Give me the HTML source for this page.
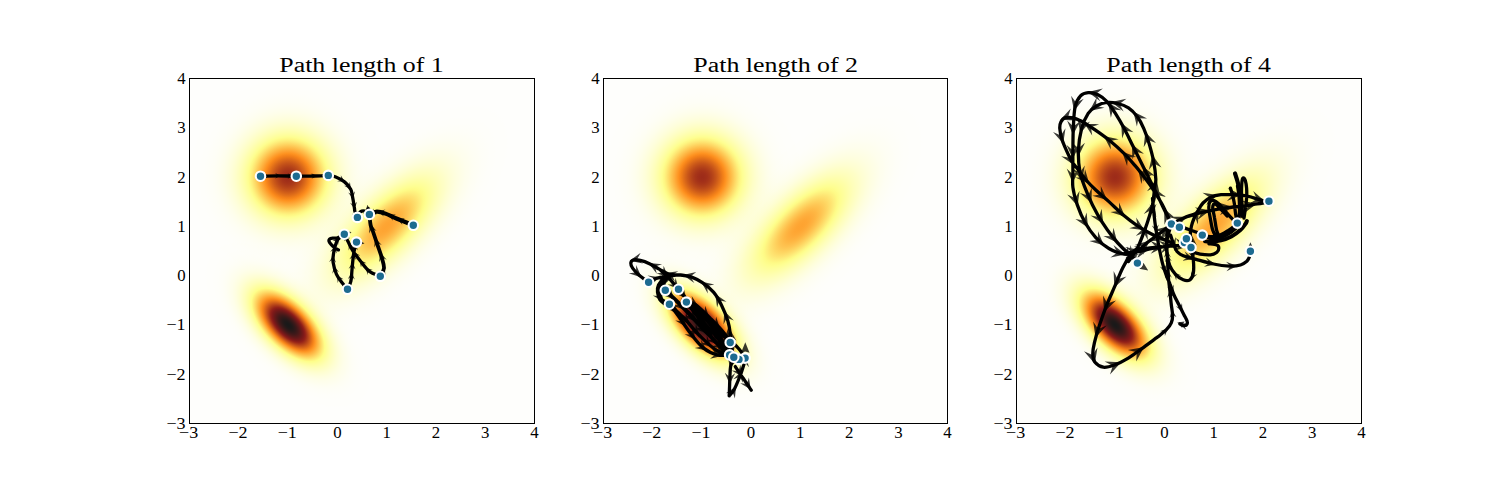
<!DOCTYPE html>
<html><head><meta charset="utf-8"><title>Path length</title>
<style>html,body{margin:0;padding:0;background:#fff}svg{display:block}.tk{font-family:"Liberation Serif",serif;font-size:16px;fill:#000}.tt{font-family:"Liberation Serif",serif;font-size:21.6px;fill:#000}</style></head><body>
<svg width="1512" height="504" viewBox="0 0 1512 504">
<defs>
<radialGradient id="g0" gradientUnits="userSpaceOnUse" cx="0" cy="0" r="1" gradientTransform="matrix(-56.6893 -56.6893 134.9475 -134.9475 197.143 147.857)"><stop offset="0.0000" stop-color="#ffa431"/><stop offset="0.0208" stop-color="#ffa532"/><stop offset="0.0417" stop-color="#ffa734"/><stop offset="0.0625" stop-color="#ffab38"/><stop offset="0.0833" stop-color="#ffb03e"/><stop offset="0.1042" stop-color="#ffb744"/><stop offset="0.1250" stop-color="#ffbf4c"/><stop offset="0.1458" stop-color="#ffc755"/><stop offset="0.1667" stop-color="#ffd15e"/><stop offset="0.1875" stop-color="#ffdb68"/><stop offset="0.2083" stop-color="#ffe573"/><stop offset="0.2292" stop-color="#fff07e"/><stop offset="0.2500" stop-color="#fffb88"/><stop offset="0.2708" stop-color="#ffff93"/><stop offset="0.2917" stop-color="#ffff9e"/><stop offset="0.3125" stop-color="#ffffa8"/><stop offset="0.3333" stop-color="#ffffb2"/><stop offset="0.3542" stop-color="#ffffbb"/><stop offset="0.3750" stop-color="#ffffc4"/><stop offset="0.3958" stop-color="#ffffcb"/><stop offset="0.4167" stop-color="#ffffd3"/><stop offset="0.4375" stop-color="#ffffd9"/><stop offset="0.4583" stop-color="#ffffdf"/><stop offset="0.4792" stop-color="#ffffe4"/><stop offset="0.5000" stop-color="#ffffe8"/><stop offset="0.5208" stop-color="#ffffec"/><stop offset="0.5417" stop-color="#fffff0"/><stop offset="0.5625" stop-color="#fffff2"/><stop offset="0.5833" stop-color="#fffff5"/><stop offset="0.6042" stop-color="#fffff7"/><stop offset="0.6250" stop-color="#fffff8"/><stop offset="0.6458" stop-color="#fffffa"/><stop offset="0.6667" stop-color="#fffffb"/><stop offset="0.6875" stop-color="#fffffc"/><stop offset="0.7083" stop-color="#fffffd"/><stop offset="0.7292" stop-color="#fffffd"/><stop offset="0.7500" stop-color="#fffffe"/><stop offset="0.7708" stop-color="#fffffe"/><stop offset="0.7917" stop-color="#fffffe"/><stop offset="0.8125" stop-color="#fffffe"/><stop offset="0.8333" stop-color="#ffffff"/><stop offset="0.8542" stop-color="#ffffff"/><stop offset="0.8750" stop-color="#ffffff"/><stop offset="0.8958" stop-color="#ffffff"/><stop offset="0.9167" stop-color="#ffffff"/><stop offset="0.9375" stop-color="#ffffff"/><stop offset="0.9583" stop-color="#ffffff"/><stop offset="0.9792" stop-color="#ffffff"/><stop offset="1.0000" stop-color="#ffffff"/></radialGradient>
<radialGradient id="g1" gradientUnits="userSpaceOnUse" cx="0" cy="0" r="1" gradientTransform="matrix(-41.4000 41.4000 -82.8000 -82.8000 98.571 246.429)"><stop offset="0.0000" stop-color="#191919"/><stop offset="0.0208" stop-color="#1b1919"/><stop offset="0.0417" stop-color="#201919"/><stop offset="0.0625" stop-color="#291919"/><stop offset="0.0833" stop-color="#351919"/><stop offset="0.1042" stop-color="#431919"/><stop offset="0.1250" stop-color="#551919"/><stop offset="0.1458" stop-color="#681919"/><stop offset="0.1667" stop-color="#7d1919"/><stop offset="0.1875" stop-color="#942119"/><stop offset="0.2083" stop-color="#ab3919"/><stop offset="0.2292" stop-color="#c45119"/><stop offset="0.2500" stop-color="#dc6919"/><stop offset="0.2708" stop-color="#f48119"/><stop offset="0.2917" stop-color="#ff9926"/><stop offset="0.3125" stop-color="#ffb03d"/><stop offset="0.3333" stop-color="#ffc553"/><stop offset="0.3542" stop-color="#ffda67"/><stop offset="0.3750" stop-color="#ffed7a"/><stop offset="0.3958" stop-color="#ffff8c"/><stop offset="0.4167" stop-color="#ffff9c"/><stop offset="0.4375" stop-color="#ffffaa"/><stop offset="0.4583" stop-color="#ffffb7"/><stop offset="0.4792" stop-color="#ffffc2"/><stop offset="0.5000" stop-color="#ffffcc"/><stop offset="0.5208" stop-color="#ffffd5"/><stop offset="0.5417" stop-color="#ffffdc"/><stop offset="0.5625" stop-color="#ffffe3"/><stop offset="0.5833" stop-color="#ffffe8"/><stop offset="0.6042" stop-color="#ffffed"/><stop offset="0.6250" stop-color="#fffff0"/><stop offset="0.6458" stop-color="#fffff3"/><stop offset="0.6667" stop-color="#fffff6"/><stop offset="0.6875" stop-color="#fffff8"/><stop offset="0.7083" stop-color="#fffffa"/><stop offset="0.7292" stop-color="#fffffb"/><stop offset="0.7500" stop-color="#fffffc"/><stop offset="0.7708" stop-color="#fffffd"/><stop offset="0.7917" stop-color="#fffffd"/><stop offset="0.8125" stop-color="#fffffe"/><stop offset="0.8333" stop-color="#fffffe"/><stop offset="0.8542" stop-color="#fffffe"/><stop offset="0.8750" stop-color="#fffffe"/><stop offset="0.8958" stop-color="#ffffff"/><stop offset="0.9167" stop-color="#ffffff"/><stop offset="0.9375" stop-color="#ffffff"/><stop offset="0.9583" stop-color="#ffffff"/><stop offset="0.9792" stop-color="#ffffff"/><stop offset="1.0000" stop-color="#ffffff"/></radialGradient>
<radialGradient id="g2" gradientUnits="userSpaceOnUse" cx="0" cy="0" r="1" gradientTransform="matrix(113.3786 -0.0000 0.0000 -113.3786 98.571 98.571)"><stop offset="0.0000" stop-color="#9e2b19"/><stop offset="0.0208" stop-color="#9f2d19"/><stop offset="0.0417" stop-color="#a33019"/><stop offset="0.0625" stop-color="#a93619"/><stop offset="0.0833" stop-color="#b13f19"/><stop offset="0.1042" stop-color="#bc4919"/><stop offset="0.1250" stop-color="#c85519"/><stop offset="0.1458" stop-color="#d66319"/><stop offset="0.1667" stop-color="#e57219"/><stop offset="0.1875" stop-color="#f58219"/><stop offset="0.2083" stop-color="#ff9320"/><stop offset="0.2292" stop-color="#ffa432"/><stop offset="0.2500" stop-color="#ffb643"/><stop offset="0.2708" stop-color="#ffc754"/><stop offset="0.2917" stop-color="#ffd865"/><stop offset="0.3125" stop-color="#ffe875"/><stop offset="0.3333" stop-color="#fff784"/><stop offset="0.3542" stop-color="#ffff93"/><stop offset="0.3750" stop-color="#ffffa1"/><stop offset="0.3958" stop-color="#ffffad"/><stop offset="0.4167" stop-color="#ffffb8"/><stop offset="0.4375" stop-color="#ffffc3"/><stop offset="0.4583" stop-color="#ffffcc"/><stop offset="0.4792" stop-color="#ffffd4"/><stop offset="0.5000" stop-color="#ffffdb"/><stop offset="0.5208" stop-color="#ffffe1"/><stop offset="0.5417" stop-color="#ffffe6"/><stop offset="0.5625" stop-color="#ffffeb"/><stop offset="0.5833" stop-color="#ffffef"/><stop offset="0.6042" stop-color="#fffff2"/><stop offset="0.6250" stop-color="#fffff5"/><stop offset="0.6458" stop-color="#fffff7"/><stop offset="0.6667" stop-color="#fffff9"/><stop offset="0.6875" stop-color="#fffffa"/><stop offset="0.7083" stop-color="#fffffb"/><stop offset="0.7292" stop-color="#fffffc"/><stop offset="0.7500" stop-color="#fffffd"/><stop offset="0.7708" stop-color="#fffffd"/><stop offset="0.7917" stop-color="#fffffe"/><stop offset="0.8125" stop-color="#fffffe"/><stop offset="0.8333" stop-color="#fffffe"/><stop offset="0.8542" stop-color="#fffffe"/><stop offset="0.8750" stop-color="#ffffff"/><stop offset="0.8958" stop-color="#ffffff"/><stop offset="0.9167" stop-color="#ffffff"/><stop offset="0.9375" stop-color="#ffffff"/><stop offset="0.9583" stop-color="#ffffff"/><stop offset="0.9792" stop-color="#ffffff"/><stop offset="1.0000" stop-color="#ffffff"/></radialGradient>
<clipPath id="clip"><rect x="0" y="0" width="345" height="345"/></clipPath>
<g id="bg">
<g clip-path="url(#clip)">
<rect x="0" y="0" width="345" height="345" fill="#fefefc"/>
<rect x="0" y="0" width="345" height="345" fill="url(#g0)" style="mix-blend-mode:multiply"/>
<rect x="0" y="0" width="345" height="345" fill="url(#g1)" style="mix-blend-mode:multiply"/>
<rect x="0" y="0" width="345" height="345" fill="url(#g2)" style="mix-blend-mode:multiply"/>
</g></g>
</defs>
<rect width="1512" height="504" fill="#fff"/>
<g transform="translate(189.5 78.5)">
<use href="#bg"/>
<g transform="translate(-189.5 -78.5)">
<path d="M260.5 176.2C263.4 176.1 272.0 175.8 278.0 175.8C284.0 175.8 290.6 176.2 296.3 176.2C302.0 176.2 306.7 176.1 312.0 176.0C317.3 175.9 325.6 175.5 328.3 175.4M328.3 175.4C329.4 175.6 332.4 175.7 335.2 176.8C337.9 177.9 342.2 180.0 344.8 182.1C347.4 184.2 349.5 187.2 350.7 189.3C351.9 191.5 351.6 192.0 352.2 195.0C352.8 198.0 353.9 204.4 354.3 207.1C354.8 209.8 354.4 209.7 354.9 211.4C355.4 213.1 357.0 216.4 357.4 217.4M357.4 217.4C357.9 216.5 359.1 212.9 360.4 211.9C361.7 210.9 363.5 210.8 365.0 211.2C366.5 211.6 368.7 213.9 369.4 214.4M380.3 276.3C378.4 275.4 372.5 273.7 369.1 271.1C365.8 268.5 362.8 263.9 360.2 260.7C357.6 257.5 355.5 254.9 353.5 251.8C351.5 248.7 349.8 245.0 348.3 242.1C346.8 239.2 345.0 235.5 344.3 234.2M347.5 289.3C348.1 288.0 350.1 284.8 350.8 281.5C351.6 278.2 351.6 274.1 352.0 269.6C352.4 265.2 353.0 258.5 353.5 254.8C354.0 251.1 354.5 249.4 355.0 247.3C355.5 245.2 356.2 243.0 356.5 242.1M347.5 289.3C346.6 288.2 344.2 285.5 342.3 283.0C340.4 280.5 337.9 277.6 336.4 274.1C334.9 270.6 333.6 265.4 333.1 262.2C332.6 258.9 333.2 256.8 333.4 254.6C333.6 252.4 334.1 250.7 334.5 248.9C334.9 247.1 335.3 245.5 335.9 243.9C336.5 242.3 336.7 240.8 338.1 239.2C339.5 237.6 343.3 235.0 344.3 234.2M344.3 234.2C343.2 234.8 339.6 237.2 337.7 237.8C335.8 238.5 334.1 237.9 332.7 238.1C331.3 238.3 330.1 238.6 329.5 239.2C328.9 239.8 328.8 240.5 329.1 241.4C329.4 242.3 330.3 243.5 331.3 244.6C332.3 245.7 333.7 246.9 334.9 247.8C336.1 248.7 337.8 249.6 338.4 249.9" fill="none" stroke="#000" stroke-width="3.3" stroke-linecap="round" stroke-linejoin="round"/>
<path d="M413.3 225.3C410.5 224.2 401.0 220.4 396.4 218.5C391.8 216.6 388.8 214.8 385.5 213.6C382.2 212.4 379.5 211.5 376.8 211.6C374.1 211.7 370.6 213.9 369.4 214.4" fill="none" stroke="#000" stroke-width="4.2" stroke-linecap="round" stroke-linejoin="round"/>
<path d="M380.3 276.3C380.9 274.9 383.8 271.3 384.0 268.2C384.2 265.1 382.9 261.7 381.8 257.7C380.7 253.7 378.8 248.8 377.3 244.3C375.8 239.9 373.9 234.2 372.8 231.0C371.7 227.8 371.2 227.8 370.6 225.0C370.0 222.2 369.8 217.1 369.4 214.4C369.0 211.7 368.5 209.9 368.3 209.0" fill="none" stroke="#000" stroke-width="3.8" stroke-linecap="round" stroke-linejoin="round"/>
<path d="M269.2 175.9 L263.8 178.9 L265.9 176.0 L263.6 173.4ZM280.7 175.8 L275.1 178.5 L277.4 175.8 L275.2 173.0ZM293.0 176.2 L287.5 178.8 L289.7 176.1 L287.6 173.3ZM304.4 176.2 L298.9 179.0 L301.1 176.2 L298.9 173.5ZM316.9 175.9 L311.5 178.8 L313.6 176.0 L311.3 173.3ZM328.7 175.4 L323.3 178.4 L325.4 175.5 L323.1 172.9ZM336.0 176.9 L328.4 178.5 L332.0 175.9 L330.2 171.8ZM344.9 182.0 L337.1 181.2 L341.3 179.7 L340.8 175.3ZM350.9 189.5 L344.1 185.7 L348.6 186.0 L349.9 181.7ZM352.9 198.8 L348.2 192.6 L352.1 194.7 L355.1 191.3ZM354.6 209.2 L350.1 202.8 L354.0 205.0 L357.0 201.7ZM358.0 218.6 L351.9 213.7 L356.2 214.8 L358.3 210.8ZM360.9 210.8 L360.2 218.6 L358.7 214.4 L354.2 214.9ZM370.4 215.3 L362.8 213.3 L367.2 212.5 L367.4 208.0ZM405.7 222.3 L413.5 221.6 L409.6 223.8 L410.9 228.1ZM397.1 218.8 L404.9 218.2 L401.0 220.4 L402.3 224.7ZM388.1 214.6 L395.9 214.5 L391.9 216.4 L392.9 220.8ZM377.8 211.4 L385.4 209.6 L381.9 212.3 L383.8 216.4ZM369.1 214.6 L373.8 208.4 L372.8 212.7 L376.9 214.6ZM384.6 266.8 L385.6 276.6 L383.0 271.9 L378.0 274.1ZM380.2 252.4 L386.7 259.8 L381.8 257.6 L379.1 262.2ZM375.1 237.7 L381.7 245.0 L376.8 242.8 L374.2 247.5ZM370.0 223.6 L376.6 230.9 L371.7 228.7 L369.0 233.4ZM368.4 209.0 L374.0 217.0 L369.4 214.3 L366.2 218.6ZM373.3 273.6 L381.1 272.9 L377.2 275.1 L378.5 279.4ZM365.4 267.5 L372.8 270.1 L368.3 270.5 L367.8 275.0ZM359.5 259.8 L366.6 263.2 L362.1 263.1 L361.0 267.5ZM353.4 251.7 L360.3 255.4 L355.8 255.2 L354.6 259.5ZM348.6 242.8 L354.9 247.4 L350.5 246.5 L348.7 250.6ZM344.1 233.7 L350.3 238.4 L345.9 237.5 L344.1 241.5ZM350.8 282.0 L351.4 289.8 L349.2 285.9 L344.9 287.1ZM351.8 272.2 L354.8 279.4 L351.5 276.4 L347.8 279.0ZM352.7 262.1 L355.5 269.4 L352.3 266.3 L348.6 268.8ZM353.8 252.7 L356.3 260.1 L353.2 256.9 L349.4 259.2ZM356.2 242.8 L357.7 250.5 L355.1 246.8 L351.0 248.6ZM342.4 283.3 L349.6 286.5 L345.1 286.5 L344.2 290.9ZM336.9 275.3 L343.6 279.3 L339.1 278.8 L337.7 283.1ZM333.8 266.0 L339.0 271.9 L334.9 270.1 L332.3 273.7ZM333.2 255.4 L336.1 262.7 L332.8 259.6 L329.1 262.1ZM335.2 245.8 L337.0 253.4 L334.3 249.9 L330.2 251.8ZM339.4 237.5 L338.0 245.2 L336.8 240.9 L332.4 241.0ZM367.4 204.8 L370.3 210.0 L368.0 209.6 L365.8 210.5ZM351.5 232.0 L348.8 234.8 L348.6 233.1 L347.6 231.6ZM364.5 243.5 L360.7 244.6 L361.5 243.0 L361.4 241.2Z" fill="#000" fill-opacity="0.78" stroke="none"/>
<circle cx="260.5" cy="176.2" r="4.75" fill="#1d6b90" stroke="#fff" stroke-width="2.1"/>
<circle cx="296.3" cy="176.2" r="4.75" fill="#1d6b90" stroke="#fff" stroke-width="2.1"/>
<circle cx="328.3" cy="175.4" r="4.75" fill="#1d6b90" stroke="#fff" stroke-width="2.1"/>
<circle cx="357.4" cy="217.4" r="4.75" fill="#1d6b90" stroke="#fff" stroke-width="2.1"/>
<circle cx="369.4" cy="214.4" r="4.75" fill="#1d6b90" stroke="#fff" stroke-width="2.1"/>
<circle cx="413.3" cy="225.3" r="4.75" fill="#1d6b90" stroke="#fff" stroke-width="2.1"/>
<circle cx="344.3" cy="234.2" r="4.75" fill="#1d6b90" stroke="#fff" stroke-width="2.1"/>
<circle cx="356.5" cy="242.1" r="4.75" fill="#1d6b90" stroke="#fff" stroke-width="2.1"/>
<circle cx="380.3" cy="276.3" r="4.75" fill="#1d6b90" stroke="#fff" stroke-width="2.1"/>
<circle cx="347.5" cy="289.3" r="4.75" fill="#1d6b90" stroke="#fff" stroke-width="2.1"/>
</g>
<rect x="0" y="0" width="345.0" height="345" fill="none" stroke="#000" stroke-width="1"/>
</g>
<text x="188.7" y="437.9" text-anchor="middle" class="tk" textLength="19.2" lengthAdjust="spacingAndGlyphs">−3</text>
<text x="185.6" y="428.9" text-anchor="end" class="tk" textLength="19.2" lengthAdjust="spacingAndGlyphs">−3</text>
<text x="238.0" y="437.9" text-anchor="middle" class="tk" textLength="19.2" lengthAdjust="spacingAndGlyphs">−2</text>
<text x="185.6" y="379.6" text-anchor="end" class="tk" textLength="19.2" lengthAdjust="spacingAndGlyphs">−2</text>
<text x="287.3" y="437.9" text-anchor="middle" class="tk" textLength="19.2" lengthAdjust="spacingAndGlyphs">−1</text>
<text x="185.6" y="330.3" text-anchor="end" class="tk" textLength="19.2" lengthAdjust="spacingAndGlyphs">−1</text>
<text x="337.4" y="437.9" text-anchor="middle" class="tk" textLength="8.4" lengthAdjust="spacingAndGlyphs">0</text>
<text x="185.6" y="281.0" text-anchor="end" class="tk" textLength="8.4" lengthAdjust="spacingAndGlyphs">0</text>
<text x="386.6" y="437.9" text-anchor="middle" class="tk" textLength="8.4" lengthAdjust="spacingAndGlyphs">1</text>
<text x="185.6" y="231.8" text-anchor="end" class="tk" textLength="8.4" lengthAdjust="spacingAndGlyphs">1</text>
<text x="435.9" y="437.9" text-anchor="middle" class="tk" textLength="8.4" lengthAdjust="spacingAndGlyphs">2</text>
<text x="185.6" y="182.5" text-anchor="end" class="tk" textLength="8.4" lengthAdjust="spacingAndGlyphs">2</text>
<text x="485.2" y="437.9" text-anchor="middle" class="tk" textLength="8.4" lengthAdjust="spacingAndGlyphs">3</text>
<text x="185.6" y="133.2" text-anchor="end" class="tk" textLength="8.4" lengthAdjust="spacingAndGlyphs">3</text>
<text x="534.5" y="437.9" text-anchor="middle" class="tk" textLength="8.4" lengthAdjust="spacingAndGlyphs">4</text>
<text x="185.6" y="83.9" text-anchor="end" class="tk" textLength="8.4" lengthAdjust="spacingAndGlyphs">4</text>
<text x="279.3" y="71.9" text-anchor="start" class="tt" textLength="164.5" lengthAdjust="spacingAndGlyphs">Path length of 1</text>
<g transform="translate(603.5 78.5)">
<use href="#bg"/>
<g transform="translate(-603.5 -78.5)">
<path d="M648.6 282.2C647.0 281.0 641.6 277.4 638.9 275.0C636.2 272.6 634.0 270.1 632.6 268.1C631.2 266.1 630.7 264.6 630.8 263.2C630.9 261.8 631.7 260.5 633.3 260.0C634.9 259.5 637.5 259.8 640.3 260.4C643.1 261.0 646.8 262.4 650.0 263.9C653.2 265.4 656.5 267.7 659.7 269.4C662.9 271.1 665.9 273.4 669.4 274.3C672.9 275.2 676.9 274.5 680.6 275.0C684.3 275.5 688.1 275.8 691.7 277.1C695.3 278.4 698.8 280.2 702.4 282.7C706.0 285.2 710.3 288.5 713.5 292.2C716.7 295.9 719.0 300.1 721.4 304.9C723.8 309.7 726.3 316.0 727.8 320.8C729.3 325.6 729.8 329.9 730.2 333.5C730.6 337.1 730.2 341.0 730.2 342.5M648.6 282.2C649.8 281.6 652.6 279.5 655.6 278.5C658.6 277.5 663.3 276.9 666.7 276.4C670.1 275.8 674.5 275.4 676.0 275.2M659.7 269.4C661.1 270.7 665.6 274.6 668.0 277.0C670.4 279.4 672.2 281.9 674.0 284.0C675.8 286.1 677.8 288.4 678.5 289.3M666.0 277.0C665.2 278.2 662.1 281.6 661.0 284.0C659.9 286.4 659.4 289.2 659.5 291.7C659.6 294.2 659.9 296.9 661.5 299.0C663.1 301.1 668.1 303.3 669.4 304.2M669.0 276.0C668.2 277.2 664.6 280.6 664.0 283.0C663.4 285.4 665.1 289.1 665.3 290.3M664.0 278.0C663.1 279.2 659.6 282.7 658.5 285.0C657.4 287.3 657.2 289.5 657.5 292.0C657.8 294.5 658.8 298.0 660.0 300.0C661.2 302.0 664.2 303.3 665.0 304.0M686.4 302.1C687.9 302.5 691.3 301.6 695.5 304.5C699.7 307.4 706.7 314.7 711.5 319.5C716.3 324.3 721.4 329.7 724.5 333.5C727.6 337.3 729.2 341.0 730.2 342.5M669.4 304.2C670.9 306.1 674.7 310.8 678.2 315.7C681.8 320.6 686.5 328.2 690.7 333.6C694.9 339.0 698.7 344.3 703.2 347.9C707.7 351.5 713.1 353.8 717.5 355.0C721.9 356.2 727.6 354.9 729.6 354.9M678.5 289.3C680.8 291.9 687.1 299.6 692.0 305.0C696.9 310.4 703.0 316.2 708.0 322.0C713.0 327.8 717.7 334.1 722.0 340.0C726.3 345.9 731.8 354.3 733.8 357.2M665.3 290.3C667.1 291.9 671.5 295.7 676.0 300.0C680.5 304.3 686.7 310.3 692.0 316.0C697.3 321.7 703.0 328.5 708.0 334.0C713.0 339.5 717.7 345.1 722.0 349.0C726.3 352.9 731.8 355.8 733.8 357.2M669.4 304.2C671.8 306.5 678.9 312.7 684.0 318.0C689.1 323.3 694.7 330.7 700.0 336.0C705.3 341.3 710.4 346.5 716.0 350.0C721.6 353.5 730.8 356.0 733.8 357.2M686.4 302.1C688.7 304.8 695.4 312.7 700.0 318.0C704.6 323.3 709.7 329.0 714.0 334.0C718.3 339.0 721.8 343.8 726.0 348.0C730.2 352.2 736.8 357.5 739.0 359.4M665.3 290.3C666.4 291.4 668.5 293.6 672.0 297.0C675.5 300.4 681.0 305.8 686.0 311.0C691.0 316.2 696.7 322.5 702.0 328.0C707.3 333.5 713.4 339.5 718.0 344.0C722.6 348.5 727.7 353.1 729.6 354.9M678.5 289.3C679.9 291.0 683.1 295.4 687.0 299.5C690.9 303.6 697.2 309.1 702.0 314.0C706.8 318.9 711.3 324.2 716.0 329.0C720.7 333.8 727.8 340.2 730.2 342.5M686.4 302.1C687.7 303.8 690.7 307.7 694.0 312.0C697.3 316.3 702.3 322.8 706.0 328.0C709.7 333.2 712.5 339.0 716.0 343.0C719.5 347.0 725.2 350.5 727.0 352.0M733.8 357.2C733.3 358.8 731.3 361.9 730.6 366.6C729.9 371.3 729.8 380.6 729.6 385.5C729.4 390.4 729.3 394.1 729.2 395.8M729.2 395.8C730.1 394.7 732.5 392.5 734.3 389.2C736.1 385.9 738.4 380.1 740.0 376.0C741.6 371.9 742.9 367.7 743.8 364.7C744.6 361.7 744.9 359.2 745.1 358.1M735.3 366.6C736.6 368.5 740.3 374.1 743.0 378.0C745.7 381.9 749.9 388.2 751.3 390.2M730.2 342.5C730.5 343.8 731.4 347.6 732.0 350.0C732.6 352.4 733.5 356.0 733.8 357.2M722.0 333.0C723.5 334.3 728.2 338.3 731.0 341.0C733.8 343.7 736.6 346.1 739.0 349.0C741.4 351.9 744.1 356.6 745.1 358.1" fill="none" stroke="#000" stroke-width="3.3" stroke-linecap="round" stroke-linejoin="round"/>
<path d="M729.7 328.9 L736.5 340.7 L730.5 336.3 L725.6 341.9ZM724.2 310.8 L733.8 320.5 L726.9 317.8 L723.5 324.5ZM715.2 294.1 L726.5 301.8 L719.2 300.4 L717.1 307.6ZM701.0 281.6 L714.3 284.5 L707.0 286.0 L707.8 293.4ZM683.0 275.1 L696.3 272.0 L690.4 276.5 L694.3 282.9ZM664.8 272.9 L678.3 271.3 L672.0 275.1 L675.1 281.8ZM648.5 263.0 L662.1 264.2 L655.0 266.6 L656.8 273.8ZM629.6 260.8 L640.7 252.8 L637.0 259.2 L643.0 263.5ZM641.7 277.5 L628.7 273.2 L636.1 272.5 L636.1 265.1ZM659.6 277.3 L650.6 285.5 L653.3 279.2 L647.6 275.4ZM674.7 275.3 L664.5 281.9 L668.2 276.2 L663.2 271.5ZM668.1 277.0 L656.5 273.4 L663.2 272.5 L663.6 265.7ZM678.8 289.6 L667.6 284.6 L674.5 284.6 L675.6 277.8ZM659.5 286.9 L659.9 274.8 L662.5 281.1 L669.2 279.6ZM663.3 301.7 L652.8 295.5 L659.7 296.3 L661.6 289.7ZM662.8 286.1 L661.8 273.9 L665.2 279.9 L671.7 277.7ZM698.3 306.2 L686.2 305.0 L692.7 302.8 L691.7 296.0ZM709.3 317.3 L697.8 313.2 L704.6 312.6 L705.2 305.8ZM719.8 328.1 L708.5 323.8 L715.3 323.3 L716.1 316.5ZM729.3 340.7 L719.0 334.2 L725.8 335.1 L727.9 328.6ZM676.4 313.3 L665.6 307.8 L672.4 308.0 L673.9 301.3ZM685.8 326.8 L675.3 320.6 L682.1 321.3 L684.0 314.7ZM695.5 339.8 L684.6 334.3 L691.4 334.5 L692.9 327.9ZM706.7 350.6 L694.8 348.1 L701.5 346.6 L701.2 339.7ZM721.8 355.9 L710.0 358.7 L715.4 354.5 L712.2 348.5ZM686.4 298.6 L675.3 293.6 L682.1 293.6 L683.3 286.8ZM696.9 310.3 L685.6 305.9 L692.4 305.5 L693.2 298.7ZM708.2 322.2 L696.9 317.6 L703.8 317.3 L704.7 310.5ZM717.9 334.4 L707.0 328.9 L713.9 329.2 L715.4 322.5ZM727.3 347.5 L716.7 341.4 L723.5 342.1 L725.3 335.4ZM673.8 297.9 L662.1 294.4 L668.9 293.5 L669.1 286.6ZM685.3 309.1 L673.7 305.1 L680.6 304.4 L681.1 297.6ZM696.2 320.6 L684.9 316.0 L691.8 315.7 L692.7 309.0ZM707.0 332.9 L695.8 328.1 L702.6 327.9 L703.7 321.2ZM717.5 344.6 L706.2 339.9 L713.1 339.7 L714.0 332.9ZM730.6 355.3 L718.5 353.5 L725.1 351.6 L724.4 344.8ZM678.1 312.2 L666.5 308.6 L673.3 307.7 L673.6 300.9ZM689.4 324.0 L678.2 319.3 L685.1 319.1 L686.1 312.3ZM699.5 335.6 L688.3 331.0 L695.1 330.7 L696.0 324.0ZM711.5 346.9 L699.8 343.5 L706.6 342.5 L706.8 335.6ZM725.1 354.3 L713.0 354.9 L719.1 351.7 L717.0 345.2ZM694.5 311.6 L683.3 306.6 L690.2 306.5 L691.3 299.8ZM704.8 323.6 L693.7 318.7 L700.5 318.6 L701.6 311.8ZM714.9 335.0 L703.7 330.2 L710.6 330.1 L711.6 323.3ZM725.5 347.6 L714.3 342.8 L721.1 342.6 L722.2 335.9ZM737.0 357.8 L725.3 354.7 L732.0 353.5 L732.0 346.7ZM674.3 299.3 L662.8 295.3 L669.7 294.7 L670.3 287.8ZM685.1 310.1 L673.6 306.0 L680.5 305.4 L681.1 298.6ZM695.8 321.4 L684.4 316.9 L691.3 316.6 L692.1 309.8ZM707.3 333.4 L695.8 329.2 L702.7 328.7 L703.3 321.9ZM718.4 344.4 L706.9 340.4 L713.7 339.8 L714.2 332.9ZM729.9 355.1 L718.2 351.5 L725.0 350.7 L725.4 343.8ZM685.7 298.2 L674.7 293.1 L681.5 293.2 L682.7 286.4ZM697.4 309.5 L685.7 305.8 L692.6 304.9 L692.9 298.1ZM708.5 320.9 L697.2 316.4 L704.0 316.1 L704.9 309.3ZM719.9 332.9 L708.4 328.9 L715.2 328.2 L715.8 321.4ZM731.2 343.4 L719.5 339.7 L726.3 338.9 L726.7 332.1ZM693.6 311.5 L682.8 305.9 L689.6 306.2 L691.1 299.6ZM703.1 324.0 L692.3 318.4 L699.1 318.7 L700.7 312.1ZM712.2 337.9 L702.0 331.2 L708.8 332.2 L711.0 325.8ZM722.9 349.1 L711.0 346.2 L717.8 344.9 L717.7 338.1ZM730.1 368.3 L727.6 356.3 L731.7 361.9 L737.8 358.9ZM729.7 383.9 L724.8 372.8 L729.9 377.3 L735.3 373.1ZM736.0 386.4 L734.9 398.5 L732.6 392.0 L725.9 393.2ZM742.0 370.7 L743.1 382.8 L739.7 376.9 L733.2 379.2ZM745.5 355.5 L749.0 367.2 L744.5 362.0 L738.6 365.6ZM742.2 376.8 L731.7 370.6 L738.5 371.3 L740.4 364.7ZM750.8 389.4 L740.3 383.3 L747.1 384.0 L748.9 377.4ZM733.1 354.3 L725.3 344.9 L731.5 347.9 L735.5 342.4ZM745.3 342.2 L749.5 352.7 L745.3 351.4 L741.0 352.7Z" fill="#000" fill-opacity="0.78" stroke="none"/>
<circle cx="648.6" cy="282.2" r="4.75" fill="#1d6b90" stroke="#fff" stroke-width="2.1"/>
<circle cx="665.3" cy="290.3" r="4.75" fill="#1d6b90" stroke="#fff" stroke-width="2.1"/>
<circle cx="678.5" cy="289.3" r="4.75" fill="#1d6b90" stroke="#fff" stroke-width="2.1"/>
<circle cx="669.4" cy="304.2" r="4.75" fill="#1d6b90" stroke="#fff" stroke-width="2.1"/>
<circle cx="686.4" cy="302.1" r="4.75" fill="#1d6b90" stroke="#fff" stroke-width="2.1"/>
<circle cx="730.2" cy="342.5" r="4.75" fill="#1d6b90" stroke="#fff" stroke-width="2.1"/>
<circle cx="729.6" cy="354.9" r="4.75" fill="#1d6b90" stroke="#fff" stroke-width="2.1"/>
<circle cx="745.1" cy="358.1" r="4.75" fill="#1d6b90" stroke="#fff" stroke-width="2.1"/>
<circle cx="739.0" cy="359.4" r="4.75" fill="#1d6b90" stroke="#fff" stroke-width="2.1"/>
<circle cx="733.8" cy="357.2" r="4.75" fill="#1d6b90" stroke="#fff" stroke-width="2.1"/>
</g>
<rect x="0" y="0" width="344.0" height="345" fill="none" stroke="#000" stroke-width="1"/>
</g>
<text x="602.7" y="437.9" text-anchor="middle" class="tk" textLength="19.2" lengthAdjust="spacingAndGlyphs">−3</text>
<text x="599.6" y="428.9" text-anchor="end" class="tk" textLength="19.2" lengthAdjust="spacingAndGlyphs">−3</text>
<text x="651.8" y="437.9" text-anchor="middle" class="tk" textLength="19.2" lengthAdjust="spacingAndGlyphs">−2</text>
<text x="599.6" y="379.6" text-anchor="end" class="tk" textLength="19.2" lengthAdjust="spacingAndGlyphs">−2</text>
<text x="701.0" y="437.9" text-anchor="middle" class="tk" textLength="19.2" lengthAdjust="spacingAndGlyphs">−1</text>
<text x="599.6" y="330.3" text-anchor="end" class="tk" textLength="19.2" lengthAdjust="spacingAndGlyphs">−1</text>
<text x="750.9" y="437.9" text-anchor="middle" class="tk" textLength="8.4" lengthAdjust="spacingAndGlyphs">0</text>
<text x="599.6" y="281.0" text-anchor="end" class="tk" textLength="8.4" lengthAdjust="spacingAndGlyphs">0</text>
<text x="800.1" y="437.9" text-anchor="middle" class="tk" textLength="8.4" lengthAdjust="spacingAndGlyphs">1</text>
<text x="599.6" y="231.8" text-anchor="end" class="tk" textLength="8.4" lengthAdjust="spacingAndGlyphs">1</text>
<text x="849.2" y="437.9" text-anchor="middle" class="tk" textLength="8.4" lengthAdjust="spacingAndGlyphs">2</text>
<text x="599.6" y="182.5" text-anchor="end" class="tk" textLength="8.4" lengthAdjust="spacingAndGlyphs">2</text>
<text x="898.4" y="437.9" text-anchor="middle" class="tk" textLength="8.4" lengthAdjust="spacingAndGlyphs">3</text>
<text x="599.6" y="133.2" text-anchor="end" class="tk" textLength="8.4" lengthAdjust="spacingAndGlyphs">3</text>
<text x="947.5" y="437.9" text-anchor="middle" class="tk" textLength="8.4" lengthAdjust="spacingAndGlyphs">4</text>
<text x="599.6" y="83.9" text-anchor="end" class="tk" textLength="8.4" lengthAdjust="spacingAndGlyphs">4</text>
<text x="693.3" y="71.9" text-anchor="start" class="tt" textLength="164.8" lengthAdjust="spacingAndGlyphs">Path length of 2</text>
<g transform="translate(1016.5 78.5)">
<use href="#bg"/>
<g transform="translate(-1016.5 -78.5)">
<path d="M1172.1 245.2C1168.8 245.8 1158.3 247.4 1152.5 248.5C1146.7 249.6 1141.9 250.9 1137.2 251.8C1132.5 252.7 1128.9 254.6 1124.2 254.0C1119.5 253.4 1113.6 251.2 1108.9 248.5C1104.2 245.8 1099.8 242.0 1095.8 237.6C1091.8 233.2 1088.0 227.8 1084.9 222.3C1081.8 216.9 1079.3 210.7 1077.3 204.9C1075.3 199.1 1073.6 192.9 1072.9 187.4C1072.2 181.9 1072.9 178.4 1072.9 172.2C1072.9 166.0 1072.8 157.7 1072.9 150.4C1073.0 143.1 1072.9 135.9 1073.3 128.6C1073.7 121.3 1073.9 112.2 1075.1 106.8C1076.3 101.3 1078.3 98.3 1080.5 95.9C1082.7 93.5 1085.3 92.8 1088.2 92.6C1091.1 92.4 1094.9 93.3 1098.0 94.8C1101.1 96.3 1103.8 98.3 1106.7 101.4C1109.6 104.5 1112.5 108.9 1115.4 113.4C1118.3 117.9 1121.3 123.1 1124.2 128.6C1127.1 134.0 1130.0 140.3 1132.9 146.1C1135.8 151.9 1138.7 157.7 1141.6 163.5C1144.5 169.3 1147.8 175.9 1150.3 181.0C1152.8 186.1 1154.8 189.7 1156.9 194.0C1159.0 198.3 1160.6 202.0 1163.0 207.0C1165.4 212.0 1170.0 221.2 1171.4 224.0M1137.4 263.1C1136.3 261.8 1133.1 257.5 1130.7 255.1C1128.3 252.7 1126.0 251.4 1123.1 248.5C1120.2 245.6 1116.7 242.0 1113.2 237.6C1109.7 233.2 1105.8 227.8 1102.3 222.3C1098.8 216.9 1095.4 210.7 1092.5 204.9C1089.6 199.1 1087.0 192.9 1084.9 187.4C1082.8 181.9 1081.1 178.4 1080.0 172.2C1078.9 166.0 1078.1 157.7 1078.4 150.4C1078.7 143.1 1080.0 134.8 1081.6 128.6C1083.2 122.4 1085.7 117.2 1088.2 113.4C1090.8 109.6 1093.8 107.5 1096.9 105.7C1100.0 103.9 1103.2 102.8 1106.7 102.4C1110.2 102.0 1114.0 102.6 1117.6 103.5C1121.2 104.4 1125.2 105.7 1128.5 107.9C1131.8 110.1 1134.7 113.1 1137.2 116.6C1139.8 120.0 1141.8 124.0 1143.8 128.6C1145.8 133.2 1147.6 138.4 1149.2 143.9C1150.8 149.4 1152.5 155.5 1153.6 161.3C1154.7 167.1 1155.6 174.5 1155.8 178.8C1156.0 183.2 1155.2 183.1 1154.7 187.4C1154.2 191.8 1153.6 199.4 1152.5 204.9C1151.4 210.4 1149.7 215.1 1148.1 220.2C1146.5 225.3 1144.5 230.7 1142.7 235.4C1140.9 240.1 1139.6 244.1 1137.2 248.5C1134.8 252.9 1130.0 259.4 1128.5 261.6M1137.2 248.5C1136.2 249.4 1133.5 250.7 1131.1 253.9C1128.7 257.1 1125.6 262.2 1122.8 267.8C1120.0 273.4 1117.2 280.7 1114.4 287.2C1111.6 293.7 1108.6 300.2 1106.1 306.7C1103.6 313.2 1101.2 320.1 1099.2 326.1C1097.2 332.1 1095.5 338.2 1094.4 342.8C1093.3 347.4 1092.7 350.7 1092.8 353.9C1092.9 357.1 1093.2 360.0 1095.0 362.2C1096.8 364.4 1100.1 366.7 1103.3 367.2C1106.5 367.7 1110.2 366.5 1114.4 365.0C1118.6 363.5 1123.7 360.9 1128.3 358.1C1132.9 355.3 1137.2 351.9 1142.2 348.3C1147.2 344.7 1155.4 338.6 1158.1 336.7M1158.1 336.7C1159.5 335.5 1164.2 332.0 1166.4 329.7C1168.6 327.4 1170.3 325.1 1171.3 322.8C1172.3 320.5 1172.6 318.8 1172.6 315.8C1172.6 312.8 1171.8 308.9 1171.3 304.7C1170.8 300.5 1170.4 295.2 1169.9 290.8C1169.4 286.4 1168.9 283.5 1168.5 278.3C1168.1 273.1 1167.8 265.3 1167.5 259.7C1167.2 254.1 1166.8 249.8 1166.8 244.8C1166.8 239.8 1166.7 233.4 1167.5 229.9C1168.3 226.4 1170.8 225.0 1171.4 224.0M1172.1 243.1C1169.9 242.2 1163.1 239.4 1159.1 237.6C1155.1 235.8 1151.8 234.2 1148.1 232.2C1144.4 230.2 1141.2 228.3 1137.2 225.6C1133.2 222.9 1128.9 219.8 1124.2 215.8C1119.5 211.8 1113.6 205.9 1108.9 201.6C1104.2 197.3 1099.6 193.6 1095.8 190.0C1092.0 186.4 1088.9 183.3 1086.0 180.0C1083.1 176.7 1080.8 173.1 1078.4 170.0C1076.0 166.9 1073.8 164.6 1071.8 161.3C1069.8 158.0 1068.0 154.0 1066.4 150.4C1064.8 146.8 1063.1 143.1 1062.0 139.5C1060.9 135.9 1060.0 131.5 1059.8 128.6C1059.6 125.7 1060.0 123.9 1060.9 122.1C1061.8 120.3 1063.1 118.3 1065.3 117.7C1067.5 117.1 1070.7 117.3 1074.0 118.2C1077.3 119.1 1080.9 120.9 1084.9 123.2C1088.9 125.5 1093.6 128.8 1098.0 131.9C1102.4 135.0 1106.7 138.1 1111.1 141.7C1115.5 145.3 1120.2 149.7 1124.2 153.7C1128.2 157.7 1131.8 161.9 1135.1 165.7C1138.4 169.5 1140.9 172.8 1143.8 176.6C1146.7 180.4 1149.5 184.0 1152.5 188.6C1155.5 193.2 1158.8 198.1 1162.0 204.0C1165.2 209.9 1169.8 220.7 1171.4 224.0M1152.5 198.4C1152.8 201.2 1153.6 210.2 1154.1 215.0C1154.6 219.8 1154.8 221.9 1155.6 226.9C1156.3 231.9 1157.5 238.9 1158.6 244.8C1159.7 250.8 1161.0 257.4 1162.3 262.6C1163.6 267.8 1165.2 272.4 1166.5 276.0C1167.8 279.6 1168.7 280.7 1169.9 283.9C1171.2 287.1 1172.5 291.5 1174.0 295.0C1175.5 298.5 1177.3 301.5 1178.9 304.7C1180.5 307.9 1182.4 311.6 1183.8 314.4C1185.2 317.2 1186.8 319.6 1187.2 321.4C1187.7 323.1 1187.2 324.2 1186.5 324.9C1185.8 325.5 1184.2 325.4 1183.1 325.3C1182.0 325.2 1180.5 324.2 1180.0 324.0M1137.2 251.8C1139.0 250.2 1144.4 245.0 1148.0 242.0C1151.6 239.0 1155.1 237.0 1159.0 234.0C1162.9 231.0 1169.3 225.7 1171.4 224.0M1171.4 224.0C1172.8 223.3 1177.0 221.2 1180.0 219.8C1183.0 218.4 1186.1 216.8 1189.7 215.6C1193.3 214.4 1198.1 213.3 1201.8 212.4C1205.5 211.5 1207.8 211.1 1212.1 210.3C1216.4 209.5 1222.0 208.5 1227.9 207.7C1233.8 206.9 1243.0 206.1 1247.3 205.6C1251.6 205.1 1251.1 204.8 1253.7 204.4C1256.3 204.0 1260.2 203.6 1262.7 203.1C1265.2 202.6 1267.9 201.5 1268.9 201.2M1268.9 201.2C1267.9 201.1 1265.2 201.1 1262.7 200.5C1260.2 199.9 1256.3 198.7 1253.7 197.9C1251.1 197.2 1249.9 196.5 1247.3 196.0C1244.7 195.5 1241.1 195.1 1238.2 194.9C1235.3 194.7 1232.9 194.7 1230.1 194.7C1227.2 194.7 1224.3 194.3 1221.1 194.7C1217.9 195.1 1213.8 195.8 1210.8 197.2C1207.8 198.6 1205.2 200.7 1203.0 203.0C1200.8 205.3 1199.4 208.2 1197.9 210.8C1196.4 213.4 1195.1 215.9 1194.0 218.5C1192.9 221.1 1192.0 223.3 1191.4 226.3C1190.8 229.3 1190.1 233.8 1190.2 236.6C1190.3 239.4 1191.9 241.2 1192.0 243.0C1192.1 244.8 1191.2 246.8 1191.0 247.5M1241.5 206.0C1241.5 203.5 1241.4 195.1 1241.5 190.8C1241.6 186.6 1241.8 182.7 1242.1 180.5C1242.4 178.3 1242.9 177.9 1243.4 177.9C1243.9 177.9 1244.8 178.8 1245.3 180.5C1245.8 182.2 1246.4 185.2 1246.6 188.2C1246.8 191.2 1246.8 195.1 1246.6 198.5C1246.4 201.9 1245.7 205.7 1245.3 208.9C1244.9 212.2 1244.2 216.5 1244.0 218.0M1230.5 188.2C1230.8 189.3 1231.8 192.1 1232.4 194.7C1233.1 197.3 1233.9 200.5 1234.4 203.7C1234.9 206.9 1235.1 210.8 1235.6 214.0C1236.1 217.2 1237.0 221.6 1237.3 223.1M1238.5 222.0C1238.7 220.0 1239.4 214.3 1239.5 210.0C1239.6 205.7 1239.3 200.0 1239.0 196.0C1238.7 192.0 1237.8 187.7 1237.5 186.0M1215.9 236.6C1215.4 235.5 1213.7 233.3 1212.7 230.1C1211.7 226.9 1210.8 221.1 1210.1 217.2C1209.4 213.3 1208.8 209.5 1208.8 206.9C1208.8 204.3 1209.2 202.9 1210.1 201.8C1211.0 200.7 1212.5 200.1 1214.0 200.5C1215.5 200.9 1217.4 202.6 1219.2 204.3C1221.0 206.0 1223.2 208.8 1225.0 210.8C1226.8 212.9 1228.6 215.0 1230.1 216.6C1231.6 218.2 1232.8 219.4 1234.0 220.5C1235.2 221.6 1236.8 222.7 1237.3 223.1M1219.2 236.6C1218.8 235.5 1217.4 233.3 1216.6 230.1C1215.8 226.9 1215.1 220.8 1214.4 217.2C1213.8 213.5 1212.8 210.3 1212.7 208.2C1212.6 206.0 1213.1 205.0 1213.6 204.3C1214.1 203.7 1214.8 203.6 1215.9 204.3C1217.1 205.1 1218.7 206.9 1220.5 208.8C1222.3 210.8 1225.9 214.8 1227.0 216.0M1202.3 235.1C1203.7 235.3 1207.9 236.6 1210.8 236.6C1213.7 236.6 1216.8 236.4 1219.8 235.3C1222.8 234.2 1226.4 231.6 1228.8 230.1C1231.2 228.6 1232.6 227.5 1234.0 226.3C1235.4 225.1 1236.8 223.6 1237.3 223.1M1202.3 235.1C1203.8 235.7 1207.9 238.2 1211.0 238.6C1214.1 239.0 1217.8 238.5 1221.0 237.6C1224.2 236.7 1227.3 234.7 1230.0 233.0C1232.7 231.3 1235.8 228.4 1237.0 227.5M1179.4 227.3C1180.3 227.5 1183.2 227.7 1185.0 228.2C1186.8 228.7 1188.0 229.3 1190.2 230.1C1192.4 230.8 1195.9 231.9 1197.9 232.7C1199.9 233.5 1201.6 234.7 1202.3 235.1M1191.1 251.6C1192.6 252.0 1196.9 253.6 1200.1 254.1C1203.3 254.6 1207.6 255.1 1210.4 254.8C1213.2 254.5 1215.5 253.3 1216.9 252.2C1218.3 251.1 1218.8 249.5 1218.8 248.3C1218.8 247.1 1218.5 245.8 1216.9 245.1C1215.3 244.3 1210.3 244.0 1209.0 243.8M1170.6 235.2C1171.1 236.8 1172.7 242.0 1173.8 244.7C1174.9 247.4 1175.4 249.7 1177.0 251.5C1178.6 253.3 1179.9 254.4 1183.3 255.8C1186.7 257.2 1192.6 258.4 1197.6 259.8C1202.6 261.2 1208.2 262.9 1213.5 264.0C1218.8 265.1 1224.9 265.9 1229.4 266.1C1233.9 266.3 1237.6 265.8 1240.5 265.0C1243.4 264.2 1245.3 262.6 1246.8 261.3C1248.2 260.0 1248.8 258.0 1249.2 257.4M1191.0 247.5C1191.4 249.5 1192.9 255.4 1193.3 259.7C1193.7 264.0 1193.9 269.8 1193.3 273.1C1192.7 276.5 1191.6 278.7 1189.9 279.8C1188.2 280.9 1185.6 280.7 1183.2 279.8C1180.8 278.9 1177.9 277.0 1175.7 274.6C1173.5 272.2 1171.3 269.3 1169.8 265.6C1168.3 261.9 1167.3 256.5 1166.8 252.2C1166.3 247.9 1166.2 244.7 1167.0 240.0C1167.8 235.3 1170.7 226.7 1171.4 224.0M1124.2 254.0C1128.5 253.0 1143.2 249.1 1150.0 247.9C1156.8 246.7 1159.7 247.0 1165.0 246.6C1170.3 246.2 1177.4 245.3 1181.7 245.5C1186.0 245.7 1189.5 247.2 1191.0 247.5" fill="none" stroke="#000" stroke-width="3.3" stroke-linecap="round" stroke-linejoin="round"/>
<path d="M1242.1 216.0C1242.0 213.9 1241.8 207.5 1241.5 203.7C1241.2 199.9 1240.9 197.1 1240.2 193.4C1239.5 189.8 1238.5 185.1 1237.6 181.8C1236.7 178.5 1235.4 174.8 1235.0 173.4" fill="none" stroke="#000" stroke-width="4.2" stroke-linecap="round" stroke-linejoin="round"/>
<path d="M1205.0 241.2C1205.8 241.3 1206.8 241.8 1209.5 241.7C1212.2 241.6 1217.4 241.2 1221.1 240.4C1224.8 239.6 1228.2 238.3 1231.4 236.6C1234.6 234.9 1238.0 232.2 1240.4 230.1C1242.8 227.9 1244.5 225.2 1245.6 223.7C1246.7 222.2 1246.7 221.4 1246.9 221.0" fill="none" stroke="#000" stroke-width="4.0" stroke-linecap="round" stroke-linejoin="round"/>
<path d="M1164.1 209.2 L1176.1 218.9 L1167.8 216.8 L1164.5 224.7ZM1153.7 187.5 L1165.8 197.1 L1157.4 195.0 L1154.1 203.0ZM1143.0 166.4 L1155.1 176.0 L1146.8 173.9 L1143.4 181.8ZM1131.9 144.2 L1144.0 153.8 L1135.7 151.7 L1132.4 159.6ZM1121.2 123.0 L1133.5 132.2 L1125.2 130.4 L1122.1 138.4ZM1108.0 102.6 L1121.4 110.2 L1112.9 109.4 L1110.9 117.7ZM1087.9 92.0 L1102.9 88.5 L1096.1 93.7 L1100.3 101.2ZM1074.1 110.9 L1071.1 95.8 L1076.1 102.7 L1083.7 98.8ZM1073.0 134.9 L1067.1 120.6 L1073.4 126.5 L1080.1 121.2ZM1072.9 158.8 L1066.4 144.8 L1072.9 150.4 L1079.4 144.9ZM1072.5 182.8 L1066.7 168.5 L1072.9 174.4 L1079.7 169.2ZM1077.6 206.0 L1067.2 194.5 L1075.1 198.0 L1079.6 190.7ZM1088.1 227.7 L1075.4 219.0 L1083.8 220.5 L1086.6 212.4ZM1104.0 245.5 L1089.3 240.9 L1097.8 239.9 L1098.0 231.3ZM1125.5 254.5 L1110.4 257.6 L1117.4 252.5 L1113.4 244.9ZM1149.0 249.2 L1136.8 258.6 L1140.8 251.0 L1133.9 245.9ZM1173.3 245.0 L1160.6 253.7 L1165.0 246.4 L1158.5 240.8ZM1137.8 247.8 L1135.7 263.1 L1133.3 254.9 L1124.8 256.1ZM1146.6 225.0 L1147.9 240.3 L1143.7 232.8 L1135.7 235.9ZM1153.2 201.9 L1156.4 217.0 L1151.3 210.1 L1143.8 214.1ZM1156.5 179.0 L1159.7 194.1 L1154.6 187.2 L1147.0 191.2ZM1152.4 155.1 L1161.5 167.5 L1154.0 163.4 L1148.8 170.1ZM1145.3 131.9 L1156.0 143.1 L1148.0 139.9 L1143.7 147.3ZM1133.3 111.6 L1147.1 118.6 L1138.5 118.2 L1136.9 126.6ZM1111.3 102.1 L1126.4 98.7 L1119.5 103.9 L1123.6 111.4ZM1089.4 111.0 L1096.6 97.4 L1096.1 105.9 L1104.5 107.7ZM1080.3 133.5 L1077.5 118.3 L1082.4 125.4 L1090.1 121.6ZM1078.3 156.7 L1072.0 142.6 L1078.4 148.3 L1085.0 142.8ZM1082.1 180.7 L1072.2 168.8 L1079.9 172.6 L1084.8 165.5ZM1091.6 203.1 L1079.9 193.0 L1088.1 195.5 L1091.8 187.7ZM1103.4 224.1 L1090.5 215.6 L1099.0 217.0 L1101.6 208.8ZM1117.4 242.7 L1103.4 236.0 L1112.0 236.2 L1113.5 227.7ZM1135.0 259.9 L1120.8 253.8 L1129.4 253.6 L1130.5 245.1ZM1125.3 262.9 L1127.2 246.5 L1130.0 255.3 L1139.1 253.9ZM1114.3 287.6 L1113.6 271.0 L1117.7 279.3 L1126.5 276.4ZM1104.1 311.9 L1103.0 295.4 L1107.4 303.5 L1116.0 300.4ZM1095.6 337.8 L1093.2 321.4 L1098.2 329.1 L1106.6 325.4ZM1094.8 363.8 L1084.0 351.2 L1092.4 355.1 L1097.5 347.5ZM1121.2 362.2 L1110.0 374.5 L1112.8 365.7 L1104.6 361.6ZM1144.1 346.9 L1136.2 361.4 L1136.8 352.2 L1127.9 350.1ZM1168.1 328.0 L1164.9 336.1 L1164.7 331.4 L1160.0 331.2ZM1172.0 309.8 L1176.5 317.3 L1172.6 314.6 L1169.5 318.2ZM1169.8 289.4 L1174.1 297.0 L1170.3 294.2 L1167.1 297.8ZM1168.0 270.0 L1171.9 277.8 L1168.3 274.8 L1164.9 278.2ZM1166.9 249.6 L1170.9 257.4 L1167.2 254.4 L1163.9 257.8ZM1167.3 230.1 L1170.1 238.4 L1166.9 234.9 L1163.1 237.8ZM1164.6 209.0 L1176.3 219.0 L1168.1 216.7 L1164.5 224.5ZM1152.3 188.2 L1165.4 196.3 L1156.9 195.2 L1154.5 203.5ZM1138.0 169.1 L1151.7 176.1 L1143.1 175.7 L1141.4 184.1ZM1122.0 151.4 L1136.4 156.9 L1127.9 157.5 L1127.1 166.0ZM1103.7 135.9 L1118.7 139.3 L1110.3 141.0 L1110.8 149.6ZM1083.8 122.4 L1099.1 124.4 L1090.9 126.9 L1092.2 135.4ZM1060.4 119.7 L1070.8 108.4 L1068.2 116.5 L1075.8 120.4ZM1063.2 143.5 L1053.0 131.9 L1060.8 135.5 L1065.5 128.3ZM1073.9 164.9 L1061.2 156.2 L1069.7 157.7 L1072.4 149.6ZM1089.4 183.9 L1075.3 177.6 L1083.9 177.6 L1085.0 169.1ZM1107.2 200.0 L1092.3 195.7 L1100.8 194.5 L1100.8 185.9ZM1125.1 216.7 L1110.4 212.1 L1118.9 211.1 L1119.1 202.5ZM1144.5 230.3 L1129.2 228.3 L1137.4 225.8 L1136.2 217.4ZM1165.8 240.5 L1150.4 240.9 L1158.1 237.2 L1155.6 229.0ZM1153.8 212.0 L1149.5 204.4 L1153.3 207.2 L1156.5 203.7ZM1156.5 232.8 L1151.8 225.5 L1155.8 228.1 L1158.7 224.4ZM1160.2 253.3 L1155.3 246.1 L1159.3 248.5 L1162.1 244.7ZM1165.5 273.2 L1159.7 266.6 L1164.0 268.6 L1166.3 264.5ZM1173.2 293.2 L1167.2 286.8 L1171.6 288.7 L1173.8 284.5ZM1182.5 311.9 L1175.8 306.3 L1180.4 307.6 L1182.0 303.1ZM1179.6 324.2 L1188.3 323.2 L1184.2 325.6 L1186.3 329.9ZM1149.5 240.6 L1143.3 254.7 L1143.2 246.2 L1134.7 245.0ZM1168.7 226.2 L1161.9 240.1 L1162.2 231.5 L1153.7 230.0ZM1186.6 216.7 L1176.7 228.6 L1179.0 220.3 L1171.1 216.8ZM1209.9 210.6 L1197.6 219.9 L1201.7 212.4 L1194.8 207.2ZM1233.0 207.0 L1220.0 215.3 L1224.7 208.1 L1218.3 202.4ZM1256.7 203.7 L1244.5 213.1 L1248.5 205.5 L1241.6 200.5ZM1190.2 231.5 L1196.8 245.5 L1190.2 239.9 L1183.8 245.6ZM1198.8 209.0 L1197.9 224.4 L1194.8 216.4 L1186.4 218.3ZM1217.8 194.9 L1206.3 205.3 L1209.7 197.4 L1202.5 192.8ZM1241.3 195.0 L1227.0 200.9 L1233.0 194.6 L1227.7 187.9ZM1264.9 201.2 L1249.6 203.6 L1256.8 198.9 L1253.2 191.1ZM1175.4 248.9 L1167.1 240.3 L1173.1 242.7 L1175.9 237.0ZM1194.1 258.9 L1182.3 260.8 L1187.7 257.3 L1184.7 251.6ZM1215.7 264.5 L1204.0 266.8 L1209.3 263.1 L1206.0 257.5ZM1237.3 265.9 L1226.5 271.2 L1230.7 266.2 L1226.1 261.7ZM1193.4 259.8 L1188.7 252.5 L1192.6 255.1 L1195.6 251.4ZM1190.7 279.9 L1191.2 271.2 L1192.9 275.6 L1197.4 274.3ZM1173.4 272.1 L1181.4 275.6 L1176.7 275.6 L1176.2 280.4ZM1167.0 254.0 L1171.8 261.3 L1167.8 258.7 L1164.9 262.5ZM1168.5 233.6 L1169.9 242.2 L1167.3 238.2 L1163.1 240.5ZM1140.2 250.0 L1128.2 259.7 L1132.1 252.0 L1125.1 247.1ZM1164.5 246.7 L1150.7 253.7 L1156.1 247.0 L1150.2 240.7ZM1188.6 246.3 L1173.9 250.9 L1180.3 245.2 L1175.6 238.0ZM1250.4 242.2 L1252.7 247.2 L1250.4 246.6 L1248.2 247.2ZM1148.2 270.6 L1139.1 268.8 L1142.1 266.3 L1143.4 262.7ZM1177.3 322.6 L1184.6 321.5 L1182.7 324.6 L1182.2 328.1Z" fill="#000" fill-opacity="0.78" stroke="none"/>
<circle cx="1137.4" cy="263.1" r="4.75" fill="#1d6b90" stroke="#fff" stroke-width="2.1"/>
<circle cx="1171.4" cy="224.0" r="4.75" fill="#1d6b90" stroke="#fff" stroke-width="2.1"/>
<circle cx="1179.4" cy="227.3" r="4.75" fill="#1d6b90" stroke="#fff" stroke-width="2.1"/>
<circle cx="1184.4" cy="242.6" r="4.75" fill="#1d6b90" stroke="#fff" stroke-width="2.1"/>
<circle cx="1191.0" cy="247.5" r="4.75" fill="#1d6b90" stroke="#fff" stroke-width="2.1"/>
<circle cx="1186.4" cy="238.7" r="4.75" fill="#1d6b90" stroke="#fff" stroke-width="2.1"/>
<circle cx="1202.3" cy="235.1" r="4.75" fill="#1d6b90" stroke="#fff" stroke-width="2.1"/>
<circle cx="1237.3" cy="223.1" r="4.75" fill="#1d6b90" stroke="#fff" stroke-width="2.1"/>
<circle cx="1268.9" cy="201.2" r="4.75" fill="#1d6b90" stroke="#fff" stroke-width="2.1"/>
<circle cx="1250.4" cy="251.2" r="4.75" fill="#1d6b90" stroke="#fff" stroke-width="2.1"/>
</g>
<rect x="0" y="0" width="345.0" height="345" fill="none" stroke="#000" stroke-width="1"/>
</g>
<text x="1015.7" y="437.9" text-anchor="middle" class="tk" textLength="19.2" lengthAdjust="spacingAndGlyphs">−3</text>
<text x="1012.6" y="428.9" text-anchor="end" class="tk" textLength="19.2" lengthAdjust="spacingAndGlyphs">−3</text>
<text x="1065.0" y="437.9" text-anchor="middle" class="tk" textLength="19.2" lengthAdjust="spacingAndGlyphs">−2</text>
<text x="1012.6" y="379.6" text-anchor="end" class="tk" textLength="19.2" lengthAdjust="spacingAndGlyphs">−2</text>
<text x="1114.3" y="437.9" text-anchor="middle" class="tk" textLength="19.2" lengthAdjust="spacingAndGlyphs">−1</text>
<text x="1012.6" y="330.3" text-anchor="end" class="tk" textLength="19.2" lengthAdjust="spacingAndGlyphs">−1</text>
<text x="1164.4" y="437.9" text-anchor="middle" class="tk" textLength="8.4" lengthAdjust="spacingAndGlyphs">0</text>
<text x="1012.6" y="281.0" text-anchor="end" class="tk" textLength="8.4" lengthAdjust="spacingAndGlyphs">0</text>
<text x="1213.6" y="437.9" text-anchor="middle" class="tk" textLength="8.4" lengthAdjust="spacingAndGlyphs">1</text>
<text x="1012.6" y="231.8" text-anchor="end" class="tk" textLength="8.4" lengthAdjust="spacingAndGlyphs">1</text>
<text x="1262.9" y="437.9" text-anchor="middle" class="tk" textLength="8.4" lengthAdjust="spacingAndGlyphs">2</text>
<text x="1012.6" y="182.5" text-anchor="end" class="tk" textLength="8.4" lengthAdjust="spacingAndGlyphs">2</text>
<text x="1312.2" y="437.9" text-anchor="middle" class="tk" textLength="8.4" lengthAdjust="spacingAndGlyphs">3</text>
<text x="1012.6" y="133.2" text-anchor="end" class="tk" textLength="8.4" lengthAdjust="spacingAndGlyphs">3</text>
<text x="1361.5" y="437.9" text-anchor="middle" class="tk" textLength="8.4" lengthAdjust="spacingAndGlyphs">4</text>
<text x="1012.6" y="83.9" text-anchor="end" class="tk" textLength="8.4" lengthAdjust="spacingAndGlyphs">4</text>
<text x="1106.3" y="71.9" text-anchor="start" class="tt" textLength="164.8" lengthAdjust="spacingAndGlyphs">Path length of 4</text>
</svg></body></html>
